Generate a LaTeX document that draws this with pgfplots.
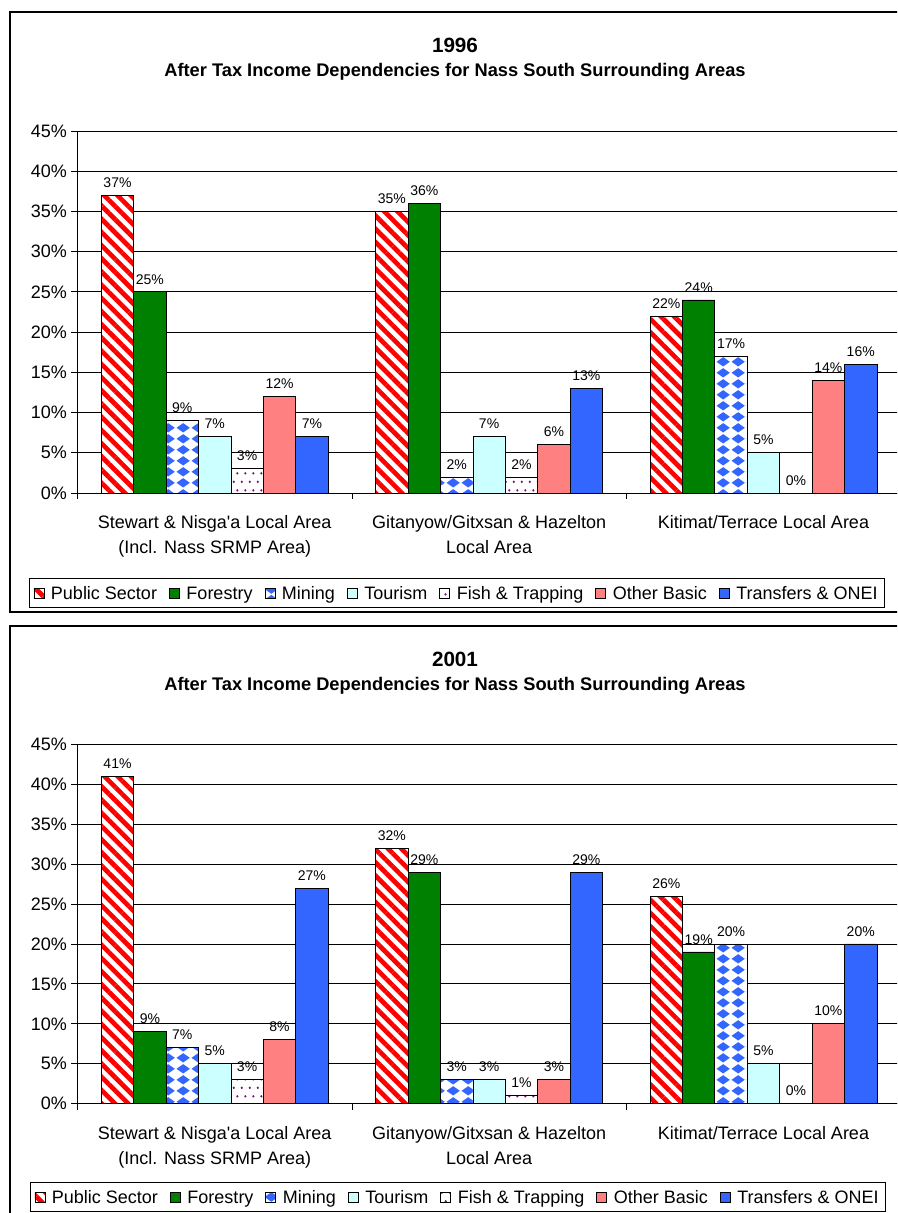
\documentclass[border=0pt]{standalone}
\usepackage{fontspec}
\setmainfont{Liberation Sans}
\usepackage{pgfplots}
\pgfplotsset{compat=1.18}
\usepackage{pgfplotstable}
\usetikzlibrary{patterns.meta}

\definecolor{psred}{HTML}{FF0000}
\definecolor{forgreen}{HTML}{008000}
\definecolor{minblue}{HTML}{3366FF}
\definecolor{tourcyan}{HTML}{CCFFFF}
\definecolor{fishpurple}{HTML}{800080}
\definecolor{othsalmon}{HTML}{FF8080}
\definecolor{trblue}{HTML}{3366FF}

\newcommand\tickfont{\fontsize{13.5pt}{18.75pt}\selectfont}
\newcommand\valfont{\fontsize{10.5pt}{12pt}\selectfont}
\newcommand\legfont{\fontsize{13.5pt}{16pt}\selectfont}
% common height and depth for all legend texts
\newcommand\lstrut{\rule[-3pt]{0pt}{13.5pt}}

% blue diamonds on a rectangular grid (rotated checkerboard look)
\tikzdeclarepattern{
  name=bluediamonds,
  type=uncolored,
  bounding box={(0,0) and (11pt,8pt)},
  tile size={(11pt,8pt)},
  code={
    \fill (5.5pt,0.4pt) -- (10.6pt,4pt) -- (5.5pt,7.6pt) -- (0.4pt,4pt) -- cycle;
  }
}
% small staggered dots
\tikzdeclarepattern{
  name=purpledots,
  type=uncolored,
  bounding box={(0,0) and (6pt,13pt)},
  tile size={(6pt,13pt)},
  code={
    \fill (1.5pt,3.25pt) circle (1pt);
    \fill (4.5pt,9.75pt) circle (1pt);
  }
}

% 1996: Public Sector, Forestry, Mining, Tourism, Fish & Trapping, Other Basic, Transfers & ONEI
\pgfplotstableread{
x ps fo mi to fi ot tr
0 37 25 9 7 3 12 7
1 35 36 2 7 2 6 13
2 22 24 17 5 0 14 16
}\dataA
% 2001
\pgfplotstableread{
x ps fo mi to fi ot tr
0 41 9 7 5 3 8 27
1 32 29 3 3 1 3 29
2 26 19 20 5 0 10 20
}\dataB

% one category group spans 205.8pt, so a bar shift of s axis units is s*205.8pt
\pgfplotsset{
  catbar/.style={ybar, bar width=0.1181, bar shift=#1, draw=black, line width=0.6pt,
    every node near coord/.append style={xshift=#1*205.8pt},
    legend image code/.code={\draw[##1, line width=0.6pt] (0pt,-3.75pt) rectangle (7.5pt,3.75pt);}},
  lbl/.style={point meta=y,
    nodes near coords={\pgfmathprintnumber{\pgfplotspointmeta}\%},
    nodes near coords align=vertical,
    every node near coord/.append style={font=\valfont, text=black, yshift=3.5pt, inner sep=2pt}},
  chartaxis/.style={
    scale only axis, width=617.4pt, anchor=south west,
    xmin=-0.5, xmax=2.5, ymin=0, ymax=45,
    axis lines*=left,
    axis line style={black, line width=0.6pt},
    ytick={0,5,...,45},
    yticklabel={\pgfmathprintnumber{\tick}\%},
    /pgf/number format/assume math mode=true,
    ymajorgrids, grid style={black, line width=0.6pt},
    tick align=outside, major tick length=4.5pt,
    tick style={black, line width=0.6pt},
    xtick={-0.5,0.5,1.5,2.5},
    xticklabels={{Stewart \& Nisga\textquotesingle a Local Area\\(Incl. Nass SRMP Area)},{Gitanyow/Gitxsan \& Hazelton\\Local Area},{Kitimat/Terrace Local Area},{}},
    xticklabel style={xshift=102.9pt, yshift=-9pt, align=center, font=\tickfont},
    yticklabel style={font=\tickfont},
    legend columns=7,
    legend style={anchor=north west, draw=black, line width=0.75pt, font=\legfont,
      inner xsep=3pt, inner ysep=3pt,
      /tikz/every odd column/.append style={column sep=3pt},
      /tikz/every even column/.append style={column sep=7pt}},
    legend cell align=left,
    clip=false,
  },
}

\newcommand\allbars[1]{%
  \addplot[catbar=-0.3543, fill=white, draw=none, forget plot] table[x=x,y=ps]{#1};
  \addplot[catbar=-0.3543, pattern={Lines[angle=-45,distance=7pt,line width=3.5pt]}, pattern color=psred, lbl] table[x=x,y=ps]{#1};
  \addlegendentry{Public Sector\lstrut}
  \addplot[catbar=-0.2362, fill=forgreen, lbl] table[x=x,y=fo]{#1};
  \addlegendentry{Forestry\lstrut}
  \addplot[catbar=-0.1181, fill=white, draw=none, forget plot] table[x=x,y=mi]{#1};
  \addplot[catbar=-0.1181, pattern=bluediamonds, pattern color=minblue, lbl] table[x=x,y=mi]{#1};
  \addlegendentry{Mining\lstrut}
  \addplot[catbar=0, fill=tourcyan, lbl] table[x=x,y=to]{#1};
  \addlegendentry{Tourism\lstrut}
  \addplot[catbar=0.1181, fill=white, draw=none, forget plot] table[x=x,y=fi]{#1};
  \addplot[catbar=0.1181, pattern=purpledots, pattern color=fishpurple, lbl] table[x=x,y=fi]{#1};
  \addlegendentry{Fish \& Trapping\lstrut}
  \addplot[catbar=0.2362, fill=othsalmon, lbl] table[x=x,y=ot]{#1};
  \addlegendentry{Other Basic\lstrut}
  \addplot[catbar=0.3543, fill=trblue, lbl] table[x=x,y=tr]{#1};
  \addlegendentry{Transfers \& ONEI\lstrut}
}

\begin{document}
\begin{tikzpicture}
\path[use as bounding box] (0,0) rectangle (672.75pt,909.75pt);
\clip (0,0) rectangle (672.75pt,909.75pt);
\fill[white] (0,0) rectangle (672.75pt,909.75pt);

% chart frames
\draw[line width=1pt] (7.5pt,900.75pt) rectangle (690pt,450.75pt);
\draw[line width=1pt] (7.5pt,440.25pt) rectangle (690pt,-20pt);

% titles
\node[font=\fontsize{15.5pt}{18pt}\selectfont\bfseries] at (341.25pt,876pt) {1996};
\node[font=\fontsize{13.7pt}{16pt}\selectfont\bfseries] at (341.25pt,856.1pt) {After Tax Income Dependencies for Nass South Surrounding Areas};
\node[font=\fontsize{15.5pt}{18pt}\selectfont\bfseries] at (341.25pt,415.5pt) {2001};
\node[font=\fontsize{13.7pt}{16pt}\selectfont\bfseries] at (341.25pt,395.25pt) {After Tax Income Dependencies for Nass South Surrounding Areas};

\begin{axis}[chartaxis, at={(58.125pt,540pt)}, height=271.5pt,
  legend style={at={(-0.0589,-0.2348)}}]
\allbars{\dataA}
\end{axis}

\begin{axis}[chartaxis, at={(58.125pt,81.975pt)}, height=269.55pt,
  legend style={at={(-0.0577,-0.2179)}}]
\allbars{\dataB}
\end{axis}
\end{tikzpicture}
\end{document}
